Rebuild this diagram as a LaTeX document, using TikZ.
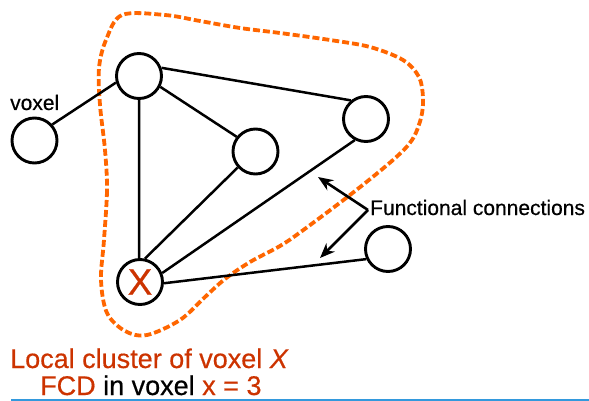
\documentclass[tikz,border=0pt]{standalone}
\usepackage{fontspec}
\setmainfont[FakeBold=0.5]{Liberation Sans}
\newfontfamily\heavysans[FakeBold=0.5]{Liberation Sans}
\usetikzlibrary{arrows.meta}
\definecolor{clusterorange}{RGB}{255,102,0}
\definecolor{fcdred}{RGB}{204,51,0}
\definecolor{rulerblue}{RGB}{51,153,221}
\tikzset{
  voxelnode/.style={circle, draw=black, line width=2.9pt, fill=white,
                    minimum size=45pt, inner sep=0pt},
  link/.style={line width=2.5pt, black},
  pointer/.style={line width=2.6pt, black, -{Stealth[length=15pt,width=12pt]}},
  cluster/.style={draw=clusterorange, line width=3.8pt, dash pattern=on 7pt off 3pt},
  plain/.style={inner sep=0pt, anchor=base west}
}
\begin{document}
\begin{tikzpicture}[x=1pt, y=-1pt]
\useasboundingbox (0,0) rectangle (589,401);

% dashed outline of the local cluster
\draw[cluster] plot[smooth cycle, tension=0.55] coordinates {
  (105,150) (107,190) (104,240) (101,280) (107,313) (125,331) (147,335)
  (180,320) (205,297) (225,279) (250,262) (280,246) (302,231) (350,195)
  (393,160) (412,140) (421,118) (423,98) (419,77) (403,60) (370,47)
  (330,40) (280,33) (240,28) (200,21) (165,15) (122,15) (106,40)
  (99,68) (100,105)};

% voxels
\node[voxelnode] (A) at (139,76) {};
\node[voxelnode] (V) at (34.5,140.5) {};
\node[voxelnode] (M) at (255.5,151.5) {};
\node[voxelnode] (R) at (366,119) {};
\node[voxelnode] (X) at (140,282) {};
\node[voxelnode] (B) at (388,249) {};
\node[text=fcdred, font=\heavysans\fontsize{37}{37}\selectfont, inner sep=0pt] (Xl) at (X.center) {X};

% functional connections
\draw[link] (V.42) -- (A.196);
\draw[link] (A.-27) -- (M.142);
\draw[link] (A.20) -- (R.129);
\draw[link] (A.-90) -- (X.92);
\draw[link] (M.222) -- (X.78);
\draw[link] (R.242) -- (X.22);
\draw[link] (X.-3) -- (B.205);

% labels
\node[plain, font=\fontsize{21}{21}\selectfont] (vl) at (10,110) {voxel};
\node[plain, font=\fontsize{21}{21}\selectfont] (fc) at (370,215) {Functional connections};
\coordinate (fcstart) at (368,210);
\coordinate (tipup) at (318,177);
\coordinate (tipdown) at (320,258);
\draw[pointer] (fcstart) -- (tipup);
\draw[pointer] (fcstart) -- (tipdown);

\node[plain, text=fcdred, font=\fontsize{27}{27}\selectfont] (cl) at (10,368)
  {Local cluster of voxel \textit{X}};
\node[plain, font=\fontsize{27}{27}\selectfont] (fcd) at (40,395)
  {\textcolor{fcdred}{FCD} in voxel \textcolor{fcdred}{x = 3}};

% rule along the bottom
\coordinate (ruleL) at (11,400);
\coordinate (ruleR) at (589,400);
\draw[rulerblue, line width=1.5pt] (ruleL) -- (ruleR);
\end{tikzpicture}
\end{document}
